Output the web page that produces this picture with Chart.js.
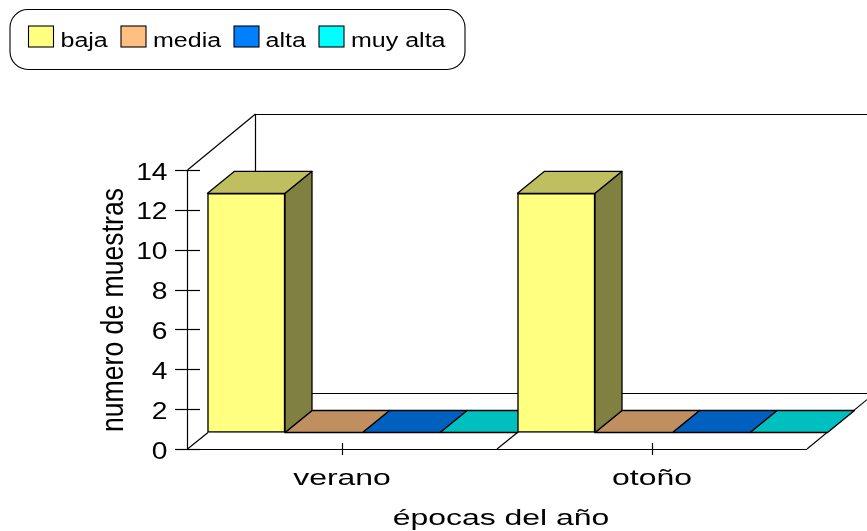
<!DOCTYPE html>
<html><head><meta charset="utf-8">
<style>html,body{margin:0;padding:0;background:#fff}canvas{display:block}</style>
<script src="https://cdn.jsdelivr.net/npm/chart.js@4/dist/chart.umd.min.js"></script>
</head><body><canvas id="c" width="867" height="531"></canvas>
<script>
const categories = ["verano", "otoño"];
const baja = [12, 12];
const media = [0, 0];
const alta = [0, 0];
const muyAlta = [0, 0];
const seriesNames = ["baja", "media", "alta", "muy alta"];
const frontColors = ["#FFFF80", "#FFBF80", "#0080FF", "#00FFFF"];
const topColors = ["#BFBF60", "#BF8F60", "#0060BF", "#00BFBF"];
const sideColors = ["#808040", "#806040", "#004080", "#008080"];
const yTitle = "numero de muestras";
const xTitle = "épocas del año";

const FONT = '"Liberation Sans", Arial, sans-serif';
const OFF = {x: 20.5, y: -16.5};      // bar plane offset from the front axis plane
const DEPTH = {x: 27, y: -22};  // bar depth
const WALL = {x: 68, y: -56};     // box depth

function sText(ctx, t, x, y, size, sx, align, rot) {
  ctx.save();
  ctx.translate(x, y);
  if (rot) ctx.rotate(rot);
  ctx.scale(sx, 1);
  ctx.font = size + 'px ' + FONT;
  ctx.fillStyle = '#000';
  ctx.textAlign = align;
  ctx.textBaseline = 'alphabetic';
  ctx.fillText(t, 0, 0);
  ctx.restore();
}
function line(ctx, x1, y1, x2, y2) {
  ctx.beginPath(); ctx.moveTo(x1, y1); ctx.lineTo(x2, y2); ctx.stroke();
}
function poly(ctx, pts, fill) {
  ctx.beginPath();
  pts.forEach((p, i) => i ? ctx.lineTo(p[0], p[1]) : ctx.moveTo(p[0], p[1]));
  ctx.closePath();
  ctx.fillStyle = fill; ctx.fill(); ctx.stroke();
}

const box3d = {
  id: 'box3d',
  beforeDatasetsDraw(chart) {
    const {ctx, chartArea: a, scales: {x, y}} = chart;
    const W = chart.width;
    ctx.save();
    ctx.strokeStyle = '#000'; ctx.lineWidth = 1.2; ctx.lineCap = 'butt';
    const L = Math.round(a.left) + .5, B = Math.round(a.bottom), T = Math.round(a.top), R = a.right;
    // back wall
    line(ctx, L + WALL.x, T + WALL.y + .5, W, T + WALL.y + .5);
    line(ctx, L + WALL.x, T + WALL.y, L + WALL.x, B + WALL.y);
    line(ctx, L + WALL.x, B + WALL.y + .5, W, B + WALL.y + .5);
    // left wall top edge and axes
    line(ctx, L, T, L + WALL.x, T + WALL.y);
    line(ctx, L, T, L, B);
    line(ctx, a.left - 12, B + .5, R, B + .5);
    // floor diagonals
    line(ctx, L, B, L + OFF.x, B + OFF.y);
    line(ctx, x.left + (x.right - x.left) / 2, B, x.left + (x.right - x.left) / 2 + OFF.x, B + OFF.y);
    line(ctx, R, B, R + 60, B - 60 * 56 / 68);
    // ticks
    y.ticks.forEach((t, i) => {
      const p = Math.round(y.getPixelForTick(i)) + .5;
      line(ctx, a.left - 12, p, a.left + 13, p);
    });
    x.ticks.forEach((t, i) => {
      const p = Math.round(x.getPixelForTick(i)) + .5;
      line(ctx, p, B - 6, p, B + 6);
    });
    ctx.restore();
  },
  beforeDatasetDraw(chart, args) {
    const {ctx} = chart;
    const i = args.index;
    ctx.save();
    ctx.translate(OFF.x, OFF.y);
    ctx.strokeStyle = '#000'; ctx.lineWidth = 1.3; ctx.lineJoin = 'round';
    args.meta.data.forEach(b => {
      const l = b.x - b.width / 2, r = b.x + b.width / 2, t = b.y, base = b.base;
      if (base - t > .5) {
        poly(ctx, [[r, t], [r + DEPTH.x, t + DEPTH.y], [r + DEPTH.x, base + DEPTH.y], [r, base]], sideColors[i]);
      }
      poly(ctx, [[l, t], [l + DEPTH.x, t + DEPTH.y], [r + DEPTH.x, t + DEPTH.y], [r, t]], topColors[i]);
    });
  },
  afterDatasetDraw(chart) {
    chart.ctx.restore();
  },
  afterDraw(chart) {
    const {ctx, scales: {x, y}} = chart;
    // value axis labels
    y.ticks.forEach((t, i) => {
      sText(ctx, String(t.value), 167.5, y.getPixelForTick(i) + 9.5, 23.5, 1.2, 'right');
    });
    // category labels
    x.ticks.forEach((t, i) => {
      sText(ctx, x.getLabelForValue(t.value), x.getPixelForTick(i), 485, 22.5, 1.42, 'center');
    });
    sText(ctx, x.options.title.text, 501, 525, 22.5, 1.42, 'center');
    sText(ctx, y.options.title.text, 123, 310, 31, 26.6 / 31, 'center', -Math.PI / 2);
    // legend
    const swatchX = [28.5, 121, 234, 319];
    const labelX = [60.5, 153, 265.5, 351];
    ctx.save();
    ctx.strokeStyle = '#000'; ctx.lineWidth = 1.1;
    ctx.beginPath(); ctx.roundRect(10, 9.5, 455, 60, 18); ctx.stroke();
    chart.data.datasets.forEach((d, i) => {
      ctx.fillStyle = d.backgroundColor;
      ctx.fillRect(swatchX[i], 26, 25, 21);
      ctx.strokeRect(swatchX[i], 26, 25, 21);
      sText(ctx, d.label, labelX[i], 47, 20, 1.25, 'left');
    });
    ctx.restore();
  }
};

const seriesValues = [baja, media, alta, muyAlta];
new Chart(document.getElementById('c'), {
  type: 'bar',
  data: {
    labels: categories,
    datasets: seriesNames.map((n, i) => ({
      label: n, data: seriesValues[i], backgroundColor: frontColors[i],
      borderColor: '#000', borderWidth: 1.5, borderSkipped: false, clip: false,
      barPercentage: 1, categoryPercentage: 1
    }))
  },
  options: {
    responsive: false, animation: false, devicePixelRatio: 1,
    layout: {padding: {top: 170, right: 60, left: 0, bottom: 0}},
    plugins: {legend: {display: false}, tooltip: {enabled: false}},
    scales: {
      x: {
        title: {display: false, text: xTitle},
        ticks: {display: false}, grid: {display: false}, border: {display: false},
        afterFit(s) { s.height = 82; }
      },
      y: {
        min: 0, max: 14,
        title: {display: false, text: yTitle},
        ticks: {display: false, stepSize: 2}, grid: {display: false}, border: {display: false},
        afterFit(s) { s.width = 187; }
      }
    }
  },
  plugins: [box3d]
});
</script></body></html>
